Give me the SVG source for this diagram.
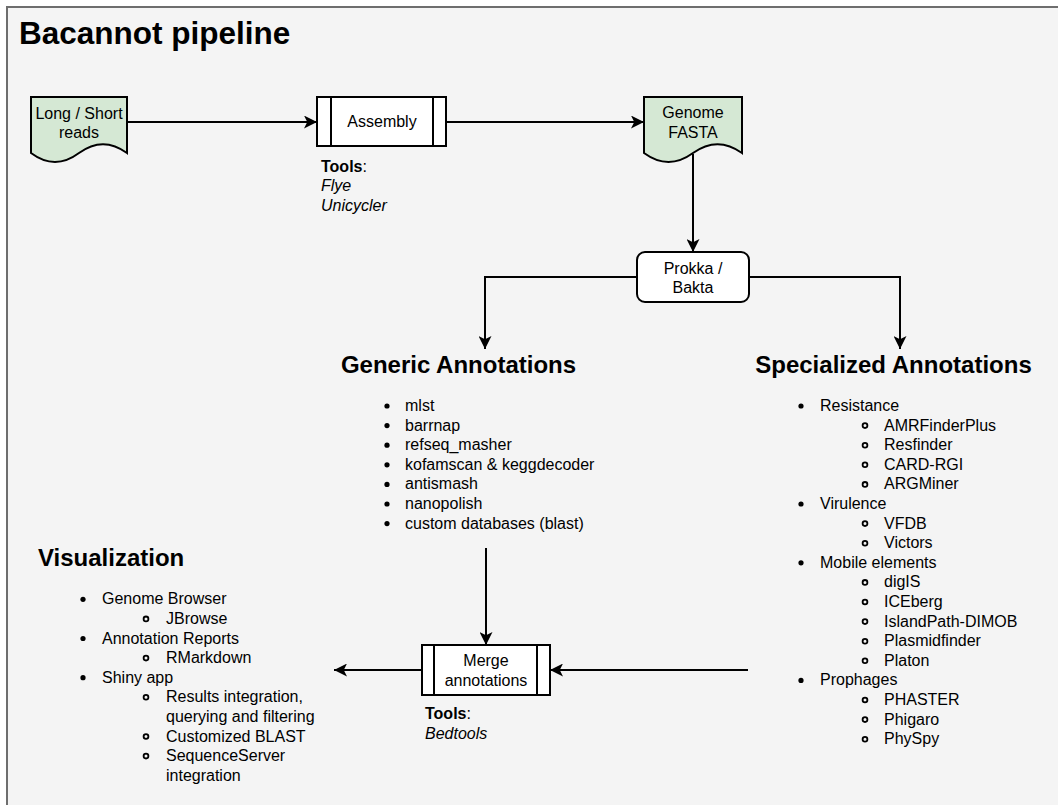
<svg xmlns="http://www.w3.org/2000/svg" width="1058" height="805" viewBox="0 0 1058 805">
<style>
text{font-family:"Liberation Sans",Arial,Helvetica,sans-serif;fill:#000}
.t{font-size:16px}
.c{text-anchor:middle}
.h{font-size:24px;font-weight:bold}
.title{font-size:31.5px;font-weight:bold}
.b{font-weight:bold}
.i{font-style:italic}
.node{stroke:#000;stroke-width:2}
.doc{fill:#d5e8d4}
.proc{fill:#fff}
.edge{fill:none;stroke:#000;stroke-width:2}
.dot{fill:#000}
.ring{fill:none;stroke:#000;stroke-width:1.8}
</style>
<defs>
<marker id="arr" viewBox="0 0 12 12" refX="12" refY="6" markerWidth="13" markerHeight="13" markerUnits="userSpaceOnUse" orient="auto">
<path d="M0,0 L12,6 L0,12 L3,6 z" fill="#000"/>
</marker>
</defs>
<rect x="0" y="0" width="1058" height="805" fill="#fff"/>
<rect id="frame" x="7" y="7" width="1062" height="812" fill="#f4f4f4" stroke="#6e6e6e" stroke-width="2"/>
<text class="title" x="19" y="44">Bacannot pipeline</text>

<g id="connectors">
<path class="edge" d="M127,122 H317" marker-end="url(#arr)"/>
<path class="edge" d="M446,122 H644" marker-end="url(#arr)"/>
<path class="edge" d="M693,154 V252" marker-end="url(#arr)"/>
<path class="edge" d="M637,277 H485 V349" marker-end="url(#arr)"/>
<path class="edge" d="M749,277 H900 V349" marker-end="url(#arr)"/>
<path class="edge" d="M486,548 V645" marker-end="url(#arr)"/>
<path class="edge" d="M748,670 H550" marker-end="url(#arr)"/>
<path class="edge" d="M422,670 H334" marker-end="url(#arr)"/>
</g>

<g id="reads">
<path class="node doc" d="M31,97 H127 V153 Q103,135.3 79,153 Q55,170.9 31,153 Z"/>
<text class="t c" x="79" y="118.5">Long / Short</text>
<text class="t c" x="79" y="137.5">reads</text>
</g>

<g id="assembly">
<rect class="node proc" x="317" y="97" width="129" height="49"/>
<path class="node" d="M331,97 V146 M433,97 V146"/>
<text class="t c" x="382" y="127">Assembly</text>
<text class="t" x="321" y="172"><tspan class="b">Tools</tspan>:</text>
<text class="t i" x="321" y="191">Flye</text>
<text class="t i" x="321" y="210.5">Unicycler</text>
</g>

<g id="genome">
<path class="node doc" d="M644,97 H742 V153 Q717.5,135.3 693,153 Q668.5,170.9 644,153 Z"/>
<text class="t c" x="693" y="118">Genome</text>
<text class="t c" x="693" y="137.5">FASTA</text>
</g>

<g id="prokka">
<rect class="node proc" x="637" y="252" width="112" height="50" rx="8"/>
<text class="t c" x="693" y="273.5">Prokka /</text>
<text class="t c" x="693" y="293">Bakta</text>
</g>

<g id="generic">
<text class="h c" x="458.5" y="372.5">Generic Annotations</text>
<g class="dot">
<circle cx="387" cy="406" r="2.6"/><circle cx="387" cy="425.6" r="2.6"/><circle cx="387" cy="445.2" r="2.6"/><circle cx="387" cy="464.8" r="2.6"/><circle cx="387" cy="484.4" r="2.6"/><circle cx="387" cy="504" r="2.6"/><circle cx="387" cy="523.6" r="2.6"/>
</g>
<text class="t" x="405" y="411">mlst</text>
<text class="t" x="405" y="430.6">barrnap</text>
<text class="t" x="405" y="450.2">refseq_masher</text>
<text class="t" x="405" y="469.8">kofamscan &amp; keggdecoder</text>
<text class="t" x="405" y="489.4">antismash</text>
<text class="t" x="405" y="509">nanopolish</text>
<text class="t" x="405" y="528.6">custom databases (blast)</text>
</g>

<g id="specialized">
<text class="h c" x="893.5" y="372.5">Specialized Annotations</text>
<g class="dot">
<circle cx="801" cy="406" r="2.6"/><circle cx="801" cy="504" r="2.6"/><circle cx="801" cy="562.8" r="2.6"/><circle cx="801" cy="680.4" r="2.6"/>
</g>
<g class="ring">
<circle cx="865" cy="425.6" r="2.4"/><circle cx="865" cy="445.2" r="2.4"/><circle cx="865" cy="464.8" r="2.4"/><circle cx="865" cy="484.4" r="2.4"/>
<circle cx="865" cy="523.6" r="2.4"/><circle cx="865" cy="543.2" r="2.4"/>
<circle cx="865" cy="582.4" r="2.4"/><circle cx="865" cy="602" r="2.4"/><circle cx="865" cy="621.6" r="2.4"/><circle cx="865" cy="641.2" r="2.4"/><circle cx="865" cy="660.8" r="2.4"/>
<circle cx="865" cy="700" r="2.4"/><circle cx="865" cy="719.6" r="2.4"/><circle cx="865" cy="739.2" r="2.4"/>
</g>
<text class="t" x="820" y="411">Resistance</text>
<text class="t" x="884" y="430.6">AMRFinderPlus</text>
<text class="t" x="884" y="450.2">Resfinder</text>
<text class="t" x="884" y="469.8">CARD-RGI</text>
<text class="t" x="884" y="489.4">ARGMiner</text>
<text class="t" x="820" y="509">Virulence</text>
<text class="t" x="884" y="528.6">VFDB</text>
<text class="t" x="884" y="548.2">Victors</text>
<text class="t" x="820" y="567.8">Mobile elements</text>
<text class="t" x="884" y="587.4">digIS</text>
<text class="t" x="884" y="607">ICEberg</text>
<text class="t" x="884" y="626.6">IslandPath-DIMOB</text>
<text class="t" x="884" y="646.2">Plasmidfinder</text>
<text class="t" x="884" y="665.8">Platon</text>
<text class="t" x="820" y="685.4">Prophages</text>
<text class="t" x="884" y="705">PHASTER</text>
<text class="t" x="884" y="724.6">Phigaro</text>
<text class="t" x="884" y="744.2">PhySpy</text>
</g>

<g id="merge">
<rect class="node proc" x="422" y="645" width="128" height="50"/>
<path class="node" d="M434,645 V695 M537,645 V695"/>
<text class="t c" x="486" y="666">Merge</text>
<text class="t c" x="486" y="685.5">annotations</text>
<text class="t" x="425" y="719"><tspan class="b">Tools</tspan>:</text>
<text class="t i" x="425" y="739">Bedtools</text>
</g>

<g id="visualization">
<text class="h" x="38" y="566">Visualization</text>
<g class="dot">
<circle cx="83" cy="599.3" r="2.6"/><circle cx="83" cy="638.5" r="2.6"/><circle cx="83" cy="677.7" r="2.6"/>
</g>
<g class="ring">
<circle cx="146" cy="618.9" r="2.4"/><circle cx="146" cy="658.1" r="2.4"/><circle cx="146" cy="697.3" r="2.4"/><circle cx="146" cy="736.5" r="2.4"/><circle cx="146" cy="756.1" r="2.4"/>
</g>
<text class="t" x="102" y="604.3">Genome Browser</text>
<text class="t" x="166" y="623.9">JBrowse</text>
<text class="t" x="102" y="643.5">Annotation Reports</text>
<text class="t" x="166" y="663.1">RMarkdown</text>
<text class="t" x="102" y="682.7">Shiny app</text>
<text class="t" x="166" y="702.3">Results integration,</text>
<text class="t" x="166" y="721.9">querying and filtering</text>
<text class="t" x="166" y="741.5">Customized BLAST</text>
<text class="t" x="166" y="761.1">SequenceServer</text>
<text class="t" x="166" y="780.7">integration</text>
</g>
</svg>
